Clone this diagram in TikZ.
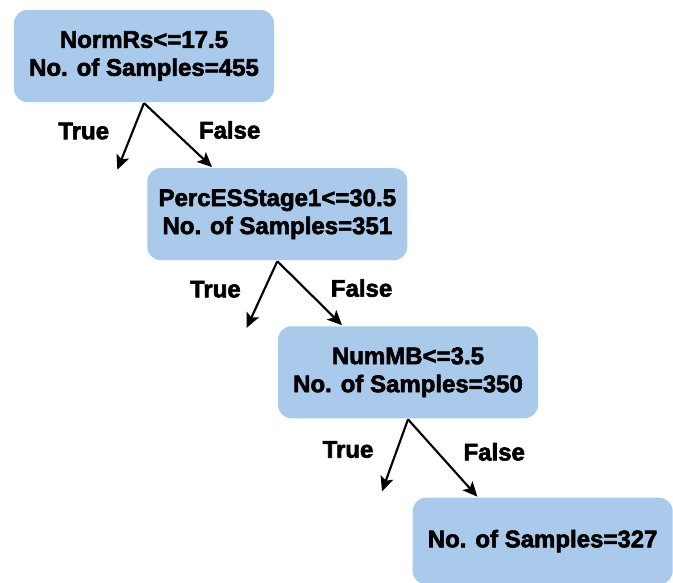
\documentclass[tikz,border=0pt]{standalone}
\usepackage{fontspec}
\setmainfont{Liberation Sans}[BoldFeatures={FakeBold=2.5}]
\usetikzlibrary{arrows.meta,positioning}

\definecolor{splitblue}{RGB}{170,202,236}

\begin{document}
\begin{tikzpicture}[->,>={Stealth[length=11pt,width=10pt,inset=2.5pt]},line width=1.6pt,
                    font=\fontsize{18}{21}\selectfont\bfseries]
  \tikzstyle{split}=[fill=splitblue,draw=none,rounded corners=10pt,
                     minimum width=195pt,minimum height=69pt,align=center]
  \tikzstyle{yes}=[pos=0.42,left=17pt,inner sep=0pt]
  \tikzstyle{no}=[pos=0.42,right=19pt,inner sep=0pt]

  \useasboundingbox (-108pt,42pt) rectangle (396.75pt,-394.5pt);

  \node[split] (A)                           {NormRs<=17.5\\No. of Samples=455};
  \node[split] (B) [below=48pt of A,xshift=100pt] {PercESStage1<=30.5\\No. of Samples=351};
  \node[split] (C) [below=48pt of B,xshift=98pt]  {NumMB<=3.5\\No. of Samples=350};
  \node[split,minimum height=65pt] (D) [below=58pt of C,xshift=101pt] {No. of Samples=327};

  % leaves of the True branches
  \coordinate[below left=50pt and 20pt of A.south]   (At);
  \coordinate[below left=50pt and 23pt of B.south]   (Bt);
  \coordinate[below left=54pt and 19.5pt of C.south] (Ct);

  \path (A.south) edge node[yes] {True}  (At)
                  edge node[no]  {False} ([xshift=-49pt]B.north)
        (B.south) edge node[yes] {True}  (Bt)
                  edge node[no]  {False} ([xshift=-49.5pt]C.north)
        (C.south) edge node[yes] {True}  (Ct)
                  edge node[no]  {False} ([xshift=-49pt]D.north);
\end{tikzpicture}
\end{document}
